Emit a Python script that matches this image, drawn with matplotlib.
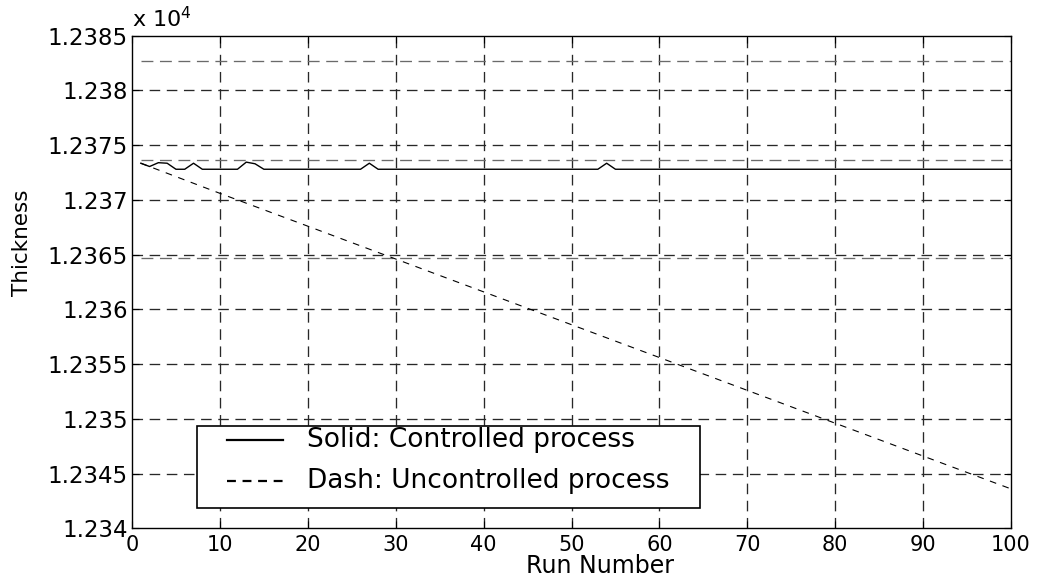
import matplotlib
matplotlib.use("Agg")
import matplotlib.pyplot as plt
from matplotlib.patches import Rectangle
from matplotlib.lines import Line2D
from matplotlib.ticker import FuncFormatter

# ---------------- data ----------------
ctrl_runs = [1, 2, 3, 4, 5, 6, 7, 8, 12, 13, 14, 15, 26, 27, 28, 53, 54, 55, 100]
ctrl_vals = [12373.35, 12373.05, 12373.40, 12373.35, 12372.80, 12372.80, 12373.35,
             12372.80, 12372.80, 12373.45, 12373.30, 12372.80, 12372.80, 12373.35,
             12372.80, 12372.80, 12373.35, 12372.80, 12372.80]

unc_runs = [1, 10, 20, 30, 40, 50, 60, 70, 80, 90, 100]
unc_vals = [12373.35, 12370.6, 12367.6, 12364.6, 12361.6, 12358.6,
            12355.6, 12352.6, 12349.6, 12346.6, 12343.6]

limit_runs = [1, 100]
ucl_val = 12382.65
center_val = 12373.65
lcl_val = 12364.65

x_ticks = [0, 10, 20, 30, 40, 50, 60, 70, 80, 90, 100]
y_ticks = [12340, 12345, 12350, 12355, 12360, 12365, 12370, 12375, 12380, 12385]
legend_labels = ["Solid: Controlled process", "Dash: Uncontrolled process"]
x_label = "Run Number"
y_label = "Thickness"

# ---------------- figure ----------------
plt.rcParams['font.family'] = ['DejaVu Sans']
W, H = 1045, 579
fig = plt.figure(figsize=(W / 100, H / 100), dpi=100)
L, R, T, B = 132, 1011, 35.7, 528.3
ax = fig.add_axes([L / W, 1 - B / H, (R - L) / W, (B - T) / H])

def px(x, y):
    """pixel (image) -> axes fraction"""
    return (x - L) / (R - L), (B - y) / (B - T)

grid_kw = dict(color='#282828', lw=0.95, dashes=(8, 5))
for xv in x_ticks[1:-1]:
    ax.axvline(xv, **grid_kw, zorder=1)
for yv in y_ticks[1:-1]:
    ax.axhline(yv, **grid_kw, zorder=1)

lim_kw = dict(color='#6a6a6a', lw=0.95, dashes=(9, 5), zorder=2)
ax.plot(limit_runs, [ucl_val, ucl_val], **lim_kw)
ax.plot(limit_runs, [center_val, center_val], **lim_kw)
ax.plot(limit_runs, [lcl_val, lcl_val], **lim_kw)

ax.plot(unc_runs, unc_vals, color='black', lw=0.8, dashes=(6, 6), zorder=3)
ax.plot(ctrl_runs, ctrl_vals, color='black', lw=1.0, zorder=4)

ax.set_xlim(0, 100)
ax.set_ylim(12340, 12385)
ax.set_xticks(x_ticks)
ax.set_yticks(y_ticks)
ax.yaxis.set_major_formatter(FuncFormatter(lambda v, p: f"{v / 1e4:g}"))
ax.tick_params(direction='in', length=5, width=0.8, top=True, right=True)
ax.tick_params(axis='x', labelsize=15, pad=5)
ax.tick_params(axis='y', labelsize=16.5, pad=3)
for s in ax.spines.values():
    s.set_linewidth(1.0)

ax.text(0.0, 1.0177, 'x 10$^{4}$', transform=ax.transAxes, ha='left',
        va='baseline', fontsize=16)

ax.set_xlabel(x_label, fontsize=17)
ax.xaxis.set_label_coords(*px(600, 566))
ax.xaxis.label.set_va('center')
ax.set_ylabel(y_label, fontsize=15.5)
ax.yaxis.set_label_coords(*px(22, 243))
ax.yaxis.label.set_va('center')

# ---------------- legend box ----------------
x0, y0 = px(197, 508)
x1, y1 = px(700, 426)
ax.add_patch(Rectangle((x0, y0), x1 - x0, y1 - y0, transform=ax.transAxes,
                       facecolor='white', edgecolor='black', lw=1.2, zorder=10))
rows = [440, 481]
styles = [dict(ls='-'), dict(dashes=(4, 3))]
for yy, lab, st in zip(rows, legend_labels, styles):
    ha0 = px(227, yy)
    ha1 = px(283, yy)
    ax.add_line(Line2D([ha0[0], ha1[0]], [ha0[1], ha1[1]], transform=ax.transAxes,
                       color='black', lw=1.6, zorder=11, **st))
    tx = px(307, yy)
    ax.text(tx[0], tx[1], lab, transform=ax.transAxes, ha='left', va='center',
            fontsize=19, zorder=11)

fig.savefig('out.png', dpi=100)
